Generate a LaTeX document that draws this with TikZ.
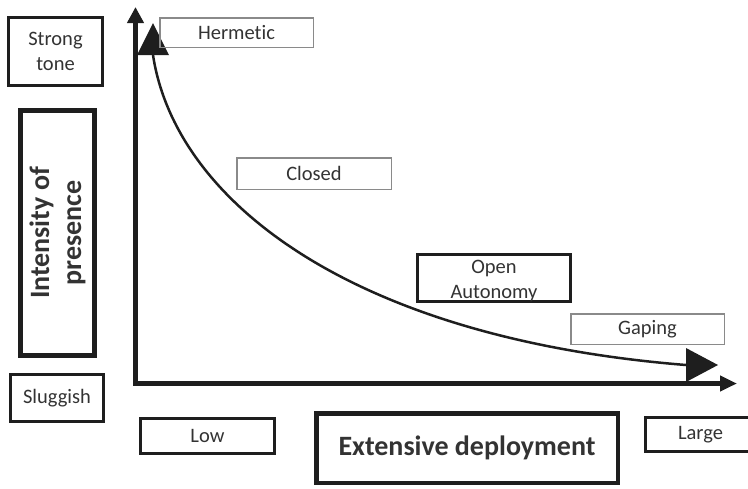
\documentclass[tikz,border=0pt]{standalone}
\usepackage{fontspec}
\setmainfont{Carlito}[Ligatures=NoCommon]
\usetikzlibrary{arrows.meta}

\definecolor{ink}{HTML}{1E1E1E}
\definecolor{txt}{HTML}{333333}
\definecolor{thinline}{HTML}{8A8A8A}

\tikzset{
  lab/.style={font=\fontsize{20.5}{25}\selectfont, text=txt, align=center,
              inner sep=0pt, outer sep=0pt},
  thinbox/.style={lab, draw=thinline, line width=1.5pt},
  midbox/.style={lab, draw=ink, line width=3pt},
  heavybox/.style={draw=ink, line width=4.8pt, inner sep=0pt, text=txt,
              align=center, font=\bfseries\fontsize{28}{32}\selectfont},
  axisline/.style={ink, line width=5pt, line join=miter},
}

\begin{document}
\begin{tikzpicture}[x=1pt, y=-1pt]
  \useasboundingbox (0,0) rectangle (748,488);

  % axes
  \draw[axisline, {Triangle[length=16pt,width=16pt]}-{Triangle[length=17pt,width=15pt]}]
    (135.5,7) -- (135.5,383.5) -- (737,383.5);

  % decreasing curve with its two large heads
  \coordinate (cstart) at (153,55);
  \coordinate (cend) at (686,365);
  \draw[ink, line width=2.5pt] (cstart) .. controls (175,200) and (350,338) .. (cend);
  \fill[ink] (137,55) -- (169,55) -- (153,23) -- cycle;
  \fill[ink] (686,348) -- (686,382) -- (718,365) -- cycle;

  % vertical scale labels
  \node[midbox, line width=3.3pt, minimum width=93.8pt, minimum height=67.8pt]
    (strong) at (55.5,51.5) {Strong\\tone};
  \node[heavybox, minimum width=74pt, minimum height=245pt]
    (intensity) at (57.5,233) {};
  \node[rotate=90, align=center, text=txt, inner sep=0pt,
        font=\bfseries\fontsize{28}{32}\selectfont]
    (intensitytext) at (intensity.center) {Intensity of\\presence};
  \node[midbox, minimum width=93pt, minimum height=47pt]
    (sluggish) at (57,398) {Sluggish};

  % stages along the curve
  \node[thinbox, minimum width=153.5pt, minimum height=29.5pt]
    (hermetic) at (236.5,32.5) {Hermetic};
  \node[thinbox, minimum width=154.5pt, minimum height=31.5pt]
    (closed) at (314,173.5) {Closed};
  \node[midbox, minimum width=153pt, minimum height=47pt]
    (open) at (494,278) {};
  \node[lab] (opentext) at (494,281) {Open\\Autonomy};
  \node[thinbox, minimum width=153.5pt, minimum height=30.5pt]
    (gaping) at (647.5,329) {Gaping};

  % horizontal scale labels
  \node[midbox, line width=2.6pt, minimum width=134.5pt, minimum height=35.5pt]
    (low) at (207.5,436) {Low};
  \node[heavybox, line width=4.5pt, minimum width=301.5pt, minimum height=69.5pt]
    (extensive) at (467,448) {Extensive deployment};
  \node[midbox, minimum width=110pt, minimum height=34pt]
    (large) at (700.5,434.5) {Large};
\end{tikzpicture}
\end{document}
